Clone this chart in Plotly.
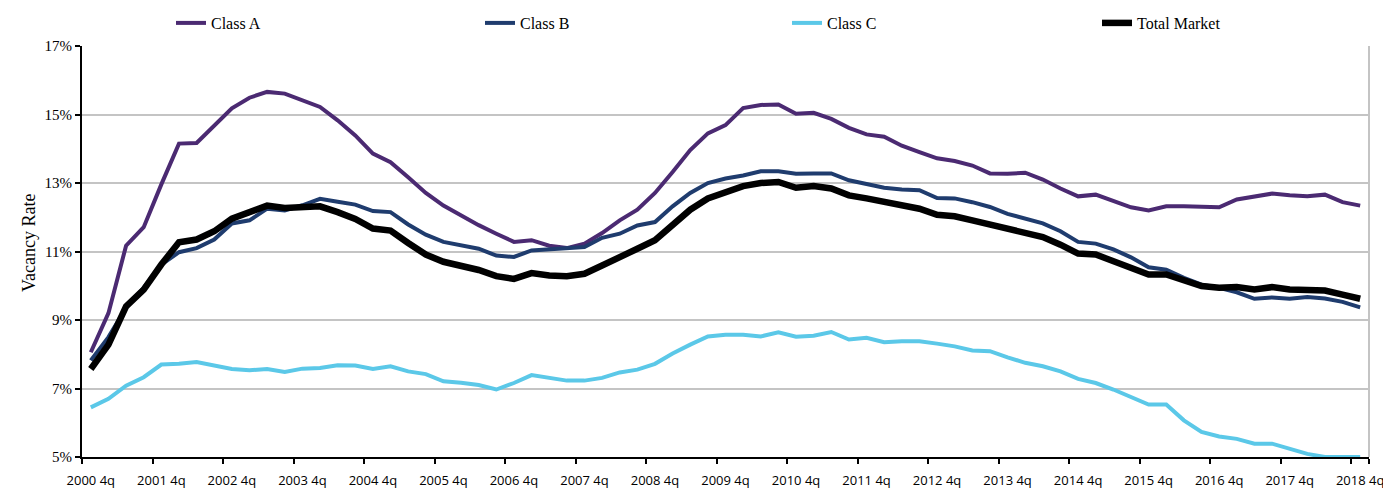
import plotly.graph_objects as go

# quarterly categories 2000 4q .. 2018 4q
quarters = ["2000 4q"] + [f"{y} {q}q" for y in range(2001, 2019) for q in (1, 2, 3, 4)]
year_labels = [f"{y} 4q" for y in range(2000, 2019)]

class_a = [8.06, 9.2, 11.17, 11.71, 12.96, 14.15, 14.17, 14.66, 15.18, 15.49, 15.66, 15.61,
           15.42, 15.22, 14.83, 14.39, 13.86, 13.61, 13.17, 12.71, 12.34, 12.05, 11.77,
           11.52, 11.28, 11.33, 11.17, 11.1, 11.23, 11.54, 11.91, 12.22, 12.71, 13.32, 13.96,
           14.45, 14.69, 15.19, 15.28, 15.29, 15.02, 15.05, 14.87, 14.61, 14.42, 14.35, 14.09,
           13.9, 13.72, 13.64, 13.51, 13.28, 13.27, 13.3, 13.1, 12.84, 12.61, 12.66, 12.47,
           12.29, 12.2, 12.32, 12.32, 12.3, 12.29, 12.52, 12.6, 12.69, 12.64, 12.61, 12.66,
           12.44, 12.34]
class_b = [7.82, 8.5, 9.35, 9.94, 10.62, 10.98, 11.1, 11.35, 11.82, 11.91, 12.25, 12.2,
           12.35, 12.54, 12.45, 12.37, 12.18, 12.15, 11.79, 11.49, 11.28, 11.17, 11.08,
           10.88, 10.84, 11.03, 11.06, 11.08, 11.13, 11.4, 11.52, 11.76, 11.86, 12.32, 12.71,
           13.0, 13.13, 13.22, 13.34, 13.34, 13.27, 13.28, 13.28, 13.08, 12.96, 12.86, 12.81,
           12.79, 12.56, 12.55, 12.44, 12.3, 12.1, 11.95, 11.82, 11.59, 11.28, 11.23, 11.06,
           10.83, 10.54, 10.47, 10.23, 10.03, 9.94, 9.81, 9.62, 9.66, 9.62, 9.67, 9.63,
           9.53, 9.37]
class_c = [6.45, 6.7, 7.08, 7.33, 7.7, 7.72, 7.77, 7.67, 7.57, 7.53, 7.57, 7.48,
           7.58, 7.6, 7.68, 7.67, 7.57, 7.65, 7.5, 7.42, 7.21, 7.17, 7.1,
           6.97, 7.16, 7.39, 7.31, 7.23, 7.23, 7.31, 7.47, 7.55, 7.72, 8.02, 8.28,
           8.52, 8.57, 8.57, 8.52, 8.64, 8.51, 8.54, 8.65, 8.43, 8.48, 8.35, 8.38,
           8.38, 8.31, 8.23, 8.11, 8.09, 7.91, 7.75, 7.65, 7.5, 7.28, 7.16, 6.97,
           6.74, 6.53, 6.53, 6.07, 5.73, 5.6, 5.53, 5.39, 5.39, 5.23, 5.09, 5.0,
           5.0, 5.0]
total_market = [7.57, 8.28, 9.4, 9.89, 10.62, 11.27, 11.35, 11.59, 11.96, 12.13, 12.34, 12.27,
                12.3, 12.32, 12.15, 11.95, 11.67, 11.61, 11.25, 10.91, 10.7, 10.58, 10.46,
                10.28, 10.2, 10.37, 10.3, 10.28, 10.35, 10.59, 10.81, 11.08, 11.33, 11.79, 12.22,
                12.55, 12.71, 12.91, 13.0, 13.03, 12.86, 12.91, 12.84, 12.64, 12.55, 12.45, 12.35,
                12.25, 12.07, 12.03, 11.91, 11.79, 11.66, 11.57, 11.42, 11.2, 10.94, 10.91, 10.72,
                10.52, 10.33, 10.33, 10.14, 9.99, 9.94, 9.96, 9.89, 9.96, 9.89, 9.87, 9.86,
                9.74, 9.62]

y_ticks = [5, 7, 9, 11, 13, 15, 17]
y_labels = ["5%", "7%", "9%", "11%", "13%", "15%", "17%"]

series = [
    ("Class A", class_a, "#4B2A72", 4),
    ("Class B", class_b, "#1F3C6E", 4),
    ("Class C", class_c, "#5BC8E8", 4),
    ("Total Market", total_market, "#000000", 6.5),
]

# page body has an 8px margin, so the figure is a bit smaller than the window
W, H = 1383, 483

# legend entries sit in one row across the top, one legend box each
legend_ids = ["legend", "legend2", "legend3", "legend4"]
legend_text_x = [203, 512, 819, 1129]

serif = "Liberation Serif, Times New Roman, serif"

fig = go.Figure()
for (name, vals, color, width), lid in zip(series, legend_ids):
    fig.add_trace(go.Scatter(x=quarters, y=vals, name=name, mode="lines", legend=lid,
                             line=dict(color=color, width=width)))

legends = {}
for lid, tx in zip(legend_ids, legend_text_x):
    legends[lid] = dict(x=(tx - 40) / W, xref="container", xanchor="left",
                        y=1 - 15 / H, yref="container", yanchor="middle",
                        font=dict(family=serif, size=16, color="#000"),
                        bgcolor="rgba(0,0,0,0)", borderwidth=0)

fig.update_layout(
    width=W, height=H,
    margin=dict(l=74, r=22, t=38, b=34, autoexpand=False),
    paper_bgcolor="white", plot_bgcolor="white",
    showlegend=True,
    **legends,
    xaxis=dict(type="category", categoryorder="array", categoryarray=quarters,
               range=[-0.5, len(quarters) - 0.5], automargin=False,
               tickmode="array", tickvals=year_labels, ticktext=year_labels, tickangle=0,
               tickson="boundaries", ticks="outside", ticklen=5, tickwidth=2, tickcolor="#000",
               showline=True, linecolor="#000", linewidth=2, showgrid=False,
               ticklabelstandoff=10,
               tickfont=dict(family="Open Sans, sans-serif", size=13, color="#000")),
    xaxis2=dict(overlaying="x", anchor="y", side="bottom", range=[-0.5, len(quarters) - 0.5],
                tickmode="array", tickvals=[i - 0.5 for i in range(0, len(quarters), 4)],
                ticks="inside", ticklen=5, tickwidth=2, tickcolor="#000",
                showticklabels=False, showgrid=False, showline=False, zeroline=False),
    yaxis=dict(range=[5, 17], tickmode="array", tickvals=y_ticks, ticktext=y_labels,
               ticks="outside", ticklen=5, tickwidth=2, tickcolor="#000", automargin=False,
               showline=True, linecolor="#000", linewidth=2,
               showgrid=True, gridcolor="#C4C4C4", gridwidth=2, zeroline=False,
               tickfont=dict(family=serif, size=15, color="#000")),
    yaxis2=dict(overlaying="y", anchor="x", side="left", range=[5, 17],
                tickmode="array", tickvals=y_ticks,
                ticks="inside", ticklen=5, tickwidth=2, tickcolor="#000",
                showticklabels=False, showgrid=False, showline=False, zeroline=False),
)

# right border of the plot area
fig.add_shape(type="line", xref="paper", yref="paper", x0=1, x1=1, y0=0, y1=1,
              line=dict(color="#C4C4C4", width=2))

fig.add_annotation(text="Vacancy Rate", xref="paper", yref="paper",
                   x=(17 - 82) / 1287, y=(457 - 243) / 411, textangle=-90,
                   showarrow=False, font=dict(family=serif, size=18, color="#000"))

fig.write_html("out.html")
